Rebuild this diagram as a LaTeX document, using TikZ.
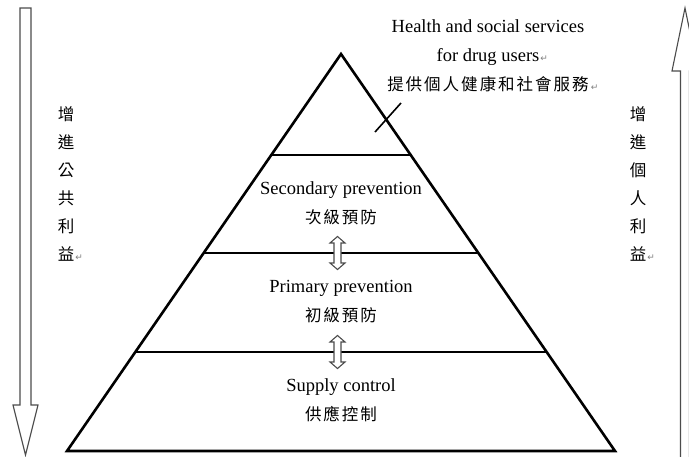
\documentclass[tikz,border=0pt]{standalone}
\usepackage{fontspec}
\usetikzlibrary{calc}
\setmainfont{Liberation Serif}
\newfontfamily\cjk{Noto Sans CJK TC}
\newfontfamily\dvs{DejaVu Sans}
\newcommand\pmark{\rlap{\hspace{1pt}{\dvs\fontsize{9}{9}\selectfont\color{gray}↵}}}
\newcommand\zh[1]{{\cjk\fontsize{16.5}{16.5}\selectfont\zhloop#1\relax}}
\def\zhloop#1{\ifx\relax#1\else\makebox[18.5pt]{#1}\expandafter\zhloop\fi}
\begin{document}
\begin{tikzpicture}[x=1pt,y=-1pt,
  pyr/.style={line width=2.6pt, line join=miter},
  hollow/.style={draw=black!70, line width=1.1pt, fill=white, line join=miter},
  lbl/.style={align=center, font=\fontsize{18.5}{29}\selectfont, inner sep=0pt},
  vlbl/.style={align=center, font=\cjk\fontsize{16.5}{28}\selectfont, inner sep=0pt},
  dblarrow/.pic={\draw[hollow] (0,-16.5) -- (7.5,-10) -- (3.5,-10) -- (3.5,10) -- (7.5,10) -- (0,16.5) -- (-7.5,10) -- (-3.5,10) -- (-3.5,-10) -- (-7.5,-10) -- cycle;}
]
\useasboundingbox (0,0) rectangle (689,456);
\clip (0,0) rectangle (689,456);
\fill[white] (0,0) rectangle (689,456);
% pyramid
\coordinate (apex) at (341,54);
\coordinate (bl) at (67,451);
\coordinate (br) at (615,451);
\coordinate (l1) at ($(apex)!0.2544!(bl)$);
\coordinate (r1) at ($(apex)!0.2544!(br)$);
\coordinate (l2) at ($(apex)!0.5013!(bl)$);
\coordinate (r2) at ($(apex)!0.5013!(br)$);
\coordinate (l3) at ($(apex)!0.7506!(bl)$);
\coordinate (r3) at ($(apex)!0.7506!(br)$);
\draw[pyr] (apex) -- (bl) -- (br) -- cycle;
\draw[pyr] (l1) -- (r1);
\draw[pyr] (l2) -- (r2);
\draw[pyr] (l3) -- (r3);
% callout tick
\coordinate (c1) at (375,132);
\coordinate (c2) at (401,103);
\draw[line width=1.6pt] (c1) -- (c2);
% double arrows
\pic (da1) at (337.5,253) {dblarrow};
\pic (da2) at (337.5,352) {dblarrow};
% side arrows
\draw[hollow] (20,8) -- (31,8) -- (31,405) -- (38,405) -- (25.5,455) -- (13,405) -- (20,405) -- cycle;
\draw[hollow] (685,8) -- (698,71) -- (689.5,71) -- (689.5,470) -- (680.5,470) -- (680.5,71) -- (672,71) -- cycle;
% texts
\node[lbl] (top) at (488,56) {Health and social services\\for drug users\pmark\\\zh{提供個人健康和社會服務}\pmark};
\node[lbl] (sec) at (341,203) {Secondary prevention\\\zh{次級預防}};
\node[lbl] (pri) at (341,302) {Primary prevention\\\zh{初級預防}};
\node[lbl] (sup) at (341,400) {Supply control\\\zh{供應控制}};
\node[vlbl] (lv) at (66,184) {增\\進\\公\\共\\利\\益\pmark};
\node[vlbl] (rv) at (638,184) {增\\進\\個\\人\\利\\益\pmark};
\end{tikzpicture}
\end{document}
